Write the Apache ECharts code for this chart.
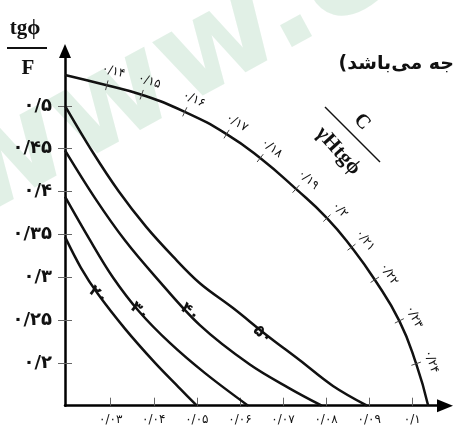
<!DOCTYPE html>
<html>
<head>
<meta charset="utf-8">
<script src="https://cdn.jsdelivr.net/npm/echarts@6/dist/echarts.min.js"></script>
<style>
html, body { margin: 0; padding: 0; background: #fff; }
#chart { width: 458px; height: 428px; }
</style>
</head>
<body>
<div id="chart"></div>
<script>
// axis ticks and their (Persian) labels
var xTicks = [0.03, 0.04, 0.05, 0.06, 0.07, 0.08, 0.09, 0.1];
var xLabels = ['۰/۰۳', '۰/۰۴', '۰/۰۵', '۰/۰۶', '۰/۰۷', '۰/۰۸', '۰/۰۹', '۰/۱'];
var yTicks = [0.2, 0.25, 0.3, 0.35, 0.4, 0.45, 0.5];
var yLabels = ['۰/۲', '۰/۲۵', '۰/۳', '۰/۳۵', '۰/۴', '۰/۴۵', '۰/۵'];

// outer curve, C / (gamma H tg phi); points 1..11 carry the ratio ticks
var outerX = [0.0194, 0.0291, 0.0372, 0.0472, 0.0569, 0.0647, 0.0730, 0.0802, 0.0859, 0.0913, 0.0970, 0.1009, 0.1037];
var outerY = [0.536, 0.524, 0.513, 0.493, 0.467, 0.439, 0.403, 0.369, 0.335, 0.297, 0.249, 0.199, 0.150];
var ratioLabels = ['۰/۱۴', '۰/۱۵', '۰/۱۶', '۰/۱۷', '۰/۱۸', '۰/۱۹', '۰/۲', '۰/۲۱', '۰/۲۲', '۰/۲۳', '۰/۲۴'];

// inner curves
var c20x = [0.0194, 0.0231, 0.0271, 0.0333, 0.0403, 0.0461, 0.0500];
var c20y = [0.347, 0.311, 0.280, 0.240, 0.200, 0.170, 0.150];
var c30x = [0.0194, 0.0250, 0.0305, 0.0366, 0.0438, 0.0519, 0.0619];
var c30y = [0.394, 0.345, 0.300, 0.260, 0.223, 0.188, 0.150];
var c40x = [0.0194, 0.0264, 0.0333, 0.0403, 0.0507, 0.0623, 0.0716, 0.0790];
var c40y = [0.448, 0.392, 0.343, 0.301, 0.244, 0.198, 0.170, 0.150];
var c50x = [0.0194, 0.0257, 0.0319, 0.0382, 0.0445, 0.0507, 0.0584, 0.0663, 0.0739, 0.0816, 0.0895];
var c50y = [0.500, 0.447, 0.400, 0.359, 0.324, 0.293, 0.264, 0.232, 0.203, 0.173, 0.150];

var curveNames = ['۲۰', '۳۰', '۴۰', '۵۰'];
var curveLabelX = [0.0271, 0.0367, 0.0484, 0.0653];
var curveLabelY = [0.279, 0.260, 0.259, 0.233];

function zip(xs, ys) {
    var out = [];
    for (var i = 0; i < xs.length; i++) out.push([xs[i], ys[i]]);
    return out;
}

function pick(vals, labels, v) {
    for (var i = 0; i < vals.length; i++) {
        if (Math.abs(vals[i] - v) < 1e-6) return labels[i];
    }
    return '';
}

var dom = document.getElementById('chart');
var myChart = echarts.init(dom);

var lineStyle = { color: '#111', width: 2.5 };

function curve(data, sm) {
    return {
        type: 'line',
        data: data,
        smooth: sm,
        showSymbol: false,
        lineStyle: lineStyle,
        z: 3
    };
}

// little ticks + labels along the outer curve
function ratioItem(params, api) {
    var k = params.dataIndex + 1;
    var p = api.coord([outerX[k], outerY[k]]);
    var a = api.coord([outerX[k - 1], outerY[k - 1]]);
    var b = api.coord([outerX[k + 1], outerY[k + 1]]);
    var dx = b[0] - a[0], dy = b[1] - a[1];
    var len = Math.sqrt(dx * dx + dy * dy);
    var tx = dx / len, ty = dy / len;
    var nx = ty, ny = -tx;
    return {
        type: 'group',
        children: [{
            type: 'line',
            shape: { x1: p[0] - 5 * nx, y1: p[1] - 5 * ny, x2: p[0] + 5 * nx, y2: p[1] + 5 * ny },
            style: { stroke: '#444', lineWidth: 1 }
        }, {
            type: 'text',
            x: p[0] + 15 * nx + 3 * tx,
            y: p[1] + 15 * ny + 3 * ty,
            rotation: -Math.atan2(ty, tx),
            style: {
                text: ratioLabels[params.dataIndex],
                fontSize: 12,
                fontFamily: 'DejaVu Sans',
                fill: '#111',
                align: 'center',
                verticalAlign: 'middle'
            }
        }]
    };
}

function nameItem(params, api) {
    var p = api.coord([api.value(0), api.value(1)]);
    return {
        type: 'text',
        x: p[0],
        y: p[1],
        rotation: -0.7,
        style: {
            text: curveNames[params.dataIndex],
            fontSize: 16,
            fontWeight: 'bold',
            fontFamily: 'DejaVu Sans',
            fill: '#111',
            align: 'center',
            verticalAlign: 'middle'
        }
    };
}

var serif = '"Liberation Serif", "DejaVu Serif", serif';

option = {
    animation: false,
    grid: { left: 65, right: 13, top: 51, bottom: 22.3 },
    xAxis: [{
        type: 'value',
        min: 0.0194,
        max: 0.1076,
        axisLine: { show: true, onZero: false, lineStyle: { color: '#000', width: 2.5 },
            symbol: ['none', 'triangle'], symbolSize: [13, 16] },
        axisTick: { show: true, inside: true, length: 8, customValues: xTicks,
            lineStyle: { color: '#666', width: 1 } },
        axisLabel: { customValues: xTicks, margin: 8, fontSize: 12, color: '#111',
            fontFamily: 'DejaVu Sans',
            formatter: function (v) { return pick(xTicks, xLabels, v); } },
        splitLine: { show: false }
    }],
    yAxis: [{
        type: 'value',
        position: 'left',
        min: 0.15,
        max: 0.564,
        axisLine: { show: true, onZero: false, lineStyle: { color: '#000', width: 2.5 },
            symbol: ['none', 'triangle'], symbolSize: [12, 14] },
        axisTick: { show: true, length: 7, customValues: yTicks,
            lineStyle: { color: '#666', width: 1 } },
        axisLabel: { customValues: yTicks, margin: 13, fontSize: 18, fontWeight: 'bold',
            color: '#111', fontFamily: 'DejaVu Sans',
            formatter: function (v) { return pick(yTicks, yLabels, v); } },
        splitLine: { show: false }
    }, {
        type: 'value',
        position: 'left',
        min: 0.15,
        max: 0.564,
        axisLine: { show: false },
        axisTick: { show: true, inside: true, length: 7, customValues: yTicks,
            lineStyle: { color: '#666', width: 1 } },
        axisLabel: { show: false },
        splitLine: { show: false }
    }],
    graphic: [
        { type: 'text', x: 170, y: 75, rotation: 0.5, z: -1,
          style: { text: 'www.e', font: 'bold 130px "DejaVu Sans"', fill: 'rgba(196,226,206,0.5)',
                   align: 'center', verticalAlign: 'middle' } },
        { type: 'text', x: 25, y: 29,
          style: { text: 'tgϕ', font: 'bold 21px ' + serif, fill: '#111', align: 'center', verticalAlign: 'middle' } },
        { type: 'line', shape: { x1: 7, y1: 48, x2: 47, y2: 48 }, style: { stroke: '#111', lineWidth: 2 } },
        { type: 'text', x: 28, y: 69,
          style: { text: 'F', font: 'bold 21px ' + serif, fill: '#111', align: 'center', verticalAlign: 'middle' } },
        { type: 'text', x: 454, y: 64,
          style: { text: 'جه می‌باشد)\u200F', font: 'bold 19px "DejaVu Sans"', fill: '#111',
                   align: 'right', verticalAlign: 'middle' } },
        { type: 'line', shape: { x1: 325, y1: 107, x2: 380, y2: 162 }, style: { stroke: '#111', lineWidth: 1.5 } },
        { type: 'text', x: 362, y: 122, rotation: -0.84,
          style: { text: 'C', font: 'bold 20px ' + serif, fill: '#111', align: 'center', verticalAlign: 'middle' } },
        { type: 'text', x: 338, y: 151, rotation: -0.84,
          style: { text: 'γHtgϕ', font: 'bold 21px ' + serif, fill: '#111', align: 'center', verticalAlign: 'middle' } }
    ],
    series: [
        curve(zip(outerX, outerY), 0.5),
        curve(zip(c20x, c20y), 0.35),
        curve(zip(c30x, c30y), 0.35),
        curve(zip(c40x, c40y), 0.35),
        curve(zip(c50x, c50y), 0.35),
        {
            type: 'custom',
            renderItem: ratioItem,
            data: zip(outerX.slice(1, 12), outerY.slice(1, 12)),
            z: 4
        },
        {
            type: 'custom',
            renderItem: nameItem,
            data: zip(curveLabelX, curveLabelY),
            z: 4
        }
    ]
};

if (option && typeof option === 'object') {
    myChart.setOption(option, true);
}
</script>
</body>
</html>
